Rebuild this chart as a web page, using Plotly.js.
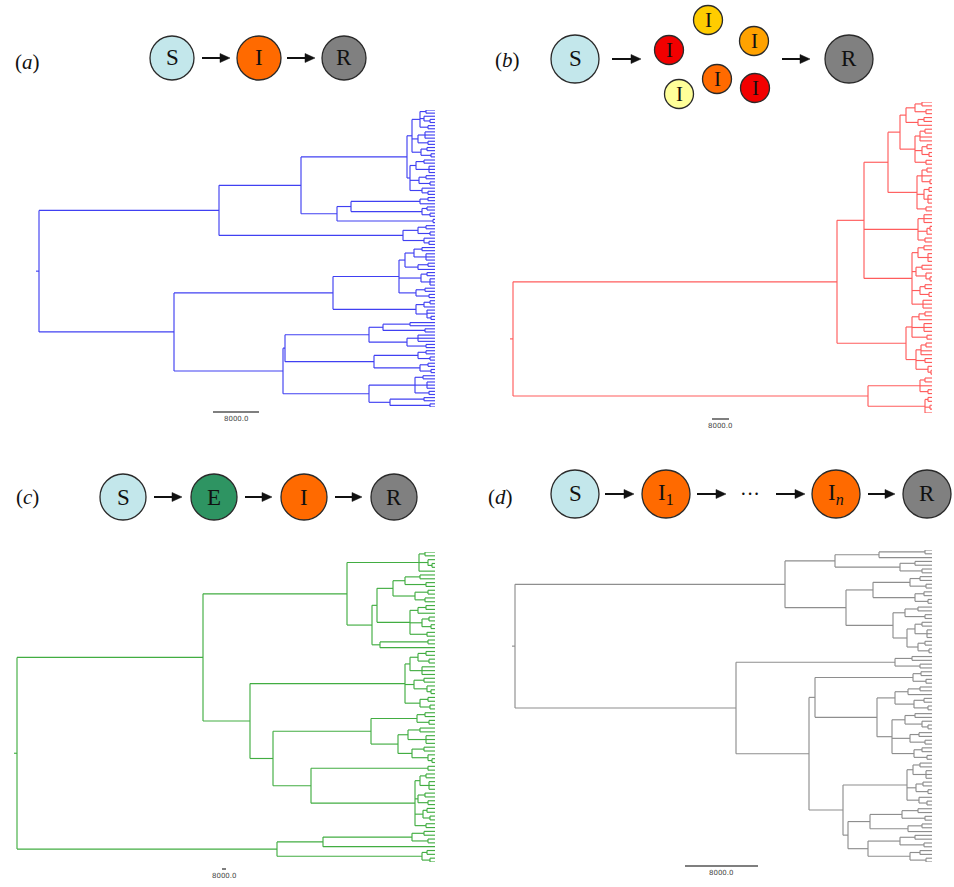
<!DOCTYPE html>
<html><head><meta charset="utf-8">
<script src="https://cdn.plot.ly/plotly-3.0.1.min.js"></script>
<style>html,body{margin:0;padding:0;background:#fff}#chart{width:954px;height:887px}</style>
</head><body><div id="chart"></div>
<script>
// ---- Tree data: node = [nodeDepth, child, child, ...]; leaf = tipDepth ----
const treeA = [39,
  [219,
    [301,
      [407,
        [412,
          [420,[426,435,435],[424,435,[430,435,435]],[428,435,435]],
          [418,[425,435,435,435],[428,435,435]],
          [421,[427,435,435],[431,435,435]]
        ],
        [410,
          [416,[424,435,435],[429,435,435,435]],
          [419,[426,435,435],[430,435,435]],
          [422,435,[428,435,435]]
        ]
      ],
      [337,
        [351,[420,[428,435,435],435],[422,[427,435,435],[430,435,435]]],
        [433,435,435]
      ]
    ],
    [403,[418,[426,435,435],[430,435,435]],[424,435,[429,435,435]]]
  ],
  [174,
    [333,
      [399,
        [405,[414,[422,435,435],[426,435,435,435]],[418,[428,435,435],435]],
        [421,[427,435,435],[430,435,435,435]],
        [416,[425,435,435],[429,435,435]]
      ],
      [416,[424,[430,435,435],435],[427,435,435,[431,435,435]]]
    ],
    [283,
      [285,
        [369,[383,[410,435,435],[425,435,435]],[407,[418,435,435,435],[426,435,435]]],
        [374,[418,[426,435,435],[430,435,435]],[420,[428,435,435],[431,435,435]]]
      ],
      [369,[415,[423,435,435],[427,435,435,435],[429,435,435]],[390,[424,435,435],[430,435,435]]]
    ]
  ]
];

const treeB = [513,
  [837,
    [864,
      [888,
        [900,
          [906,[915,[922,932,932],[926,932,932]],[918,[924,932,932],932]],
          [915,[920,[925,932,932],932,932],[922,[927,932,932],[929,932,932]],[926,932,932]]
        ],
        [917,[922,[927,932,932],932,[930,932,932]],[924,[929,932,932],[928,932,932,932]],[926,932,932]]
      ],
      [918,[924,932,932,932],[927,[930,932,932],932],[925,932,932]],
      [912,[918,[924,932,932],[928,932,932,932]],[916,[922,932,932],[926,932,[930,932,932]]],[920,[925,932,932],[929,932,932]],[923,932,932,932]]
    ],
    [906,
      [912,[919,[925,932,932],932],[924,932,932,932],[927,932,932]],
      [916,[921,[926,932,932],932,932],[925,932,932],[928,932,[931,932,932]]]
    ]
  ],
  [868,
    [920,[925,932,932],932,[928,932,932]],
    [925,[928,932,932],[930,932,932],932]
  ]
];

const treeC = [17,
  [203,
    [347,
      [419,[425,435,435],[428,435,[432,435,435]],435],
      [372,
        [377,
          [393,[405,[420,435,435],[426,435,435]],[415,[428,435,435],[425,435,435]]],
          [410,[418,[426,435,435],435],[422,[429,435,435],[431,435,435]],[427,435,435]]
        ],
        [380,[428,435,435],435]
      ]
    ],
    [250,
      [405,[410,[418,[426,435,435],[429,435,435]],[422,435,435,435]],[414,[424,435,435],[427,435,[431,435,435]]],[420,[428,435,435],[430,435,435]]],
      [273,
        [371,
          [417,[425,435,435],[429,435,435]],
          [398,[408,[420,435,435],[426,435,435,435]],[412,[424,435,435],[428,435,[432,435,435]]]]
        ],
        [311,
          [428,435,435],
          [415,[420,[426,435,435],[429,435,435,435]],[418,[425,435,435],[428,435,435]],[423,[427,435,435],[430,435,435]],[426,435,435]]
        ]
      ]
    ]
  ],
  [277,
    [323,[412,[424,435,435],[428,435,435]],435],
    [422,[427,435,435],[430,435,435]]
  ]
];

const treeD = [515,
  [785,
    [835,
      [879,[925,932,932],932],
      [900,[915,932,932],[922,932,932]]
    ],
    [846,
      [873,[910,[920,932,932],[926,932,932]],[915,[924,932,932],[928,932,932]]],
      [893,
        [905,[918,932,932],[925,932,932]],
        [907,[915,[922,932,932],[927,932,932,932]],[918,[925,932,932],[929,932,932]]]
      ]
    ]
  ],
  [736,
    [895,[912,932,932],[920,932,932]],
    [809,
      [815,
        [913,[921,932,932],[926,932,932]],
        [877,
          [895,[908,[920,932,932],932],[914,[924,932,932],[928,932,932]]],
          [892,[905,[915,932,932],[922,932,[928,932,932]]],[910,[919,932,932],[925,932,932]],[914,[922,932,932],[927,932,932]]]
        ]
      ],
      [843,
        [907,[913,[920,932,932],[926,932,932,932]],[916,[923,932,932],[928,932,932]],[919,932,[927,932,932]]],
        [848,
          [870,[902,[918,932,932],[925,932,932]],[908,[922,932,932],932]],
          [868,[900,[915,932,932],[924,932,932]],[910,[920,932,932],[926,932,932]]]
        ]
      ]
    ]
  ]
];

const panelLetters = ['a','b','c','d'];
const scaleLabels = ['8000.0','8000.0','8000.0','8000.0'];
const scaleLengths = [46, 17, 4, 73];   // length of the 8000.0 bar in tree-depth units
const treeColors = ['#4040f2','#ff5c5c','#42ad42','#8e8e8e'];

// ---- layout geometry (pixels) ----
const W = 954, H = 887;
const panels = [
  {tree:treeA, xr:[0,477],   tipTop:110, tipBot:407, bar:[213,412], lab:[27,62]},
  {tree:treeB, xr:[477,954], tipTop:102, tipBot:413, bar:[712,419], lab:[508,60]},
  {tree:treeC, xr:[0,477],   tipTop:552, tipBot:862, bar:[222,869], lab:[27,497]},
  {tree:treeD, xr:[477,954], tipTop:550, tipBot:862, bar:[685,866], lab:[500,497]}
];

function layoutTree(tree){
  const xs=[], ys=[]; let leaf=0;
  function visit(node){
    if (typeof node === 'number') return {x:node, y:leaf++};
    const x = node[0];
    const kids = node.slice(1).map(visit);
    const y0 = kids[0].y, y1 = kids[kids.length-1].y;
    xs.push(x,x,null); ys.push(y0,y1,null);
    kids.forEach(k=>{ xs.push(x,k.x,null); ys.push(k.y,k.y,null); });
    return {x, y:(y0+y1)/2};
  }
  const r = visit(tree);
  xs.push(r.x-3, r.x, null); ys.push(r.y, r.y, null);
  return {xs, ys, n:leaf};
}

const PX = px => px/W, PY = py => 1 - py/H;
const data = [], layout = {
  width:W, height:H, margin:{l:0,r:0,t:0,b:0}, showlegend:false,
  paper_bgcolor:'#fff', plot_bgcolor:'rgba(0,0,0,0)', shapes:[], annotations:[]
};
const serif = 'Liberation Serif, Times New Roman, serif';
function label(x, y, text, font, xref){
  layout.annotations.push({xref:xref||'paper', yref:'paper', x:x, y:y, text:text, showarrow:false,
    xanchor:'center', yanchor:'middle', font:font});
}

panels.forEach((p,i)=>{
  const k = i===0 ? '' : String(i+1);
  const L = layoutTree(p.tree);
  data.push({type:'scatter', mode:'lines', x:L.xs, y:L.ys, xaxis:'x'+k, yaxis:'y'+k,
    line:{color:treeColors[i], width:1.15}, hoverinfo:'skip', connectgaps:false});
  layout['xaxis'+k] = {domain:[PX(p.xr[0]), PX(p.xr[1])], range:p.xr, visible:false, fixedrange:true, anchor:'y'+k};
  layout['yaxis'+k] = {domain:[PY(p.tipBot), PY(p.tipTop)], range:[L.n-1, 0], visible:false, fixedrange:true, anchor:'x'+k};
  // scale bar
  layout.shapes.push({type:'line', xref:'x'+k, yref:'paper', x0:p.bar[0], x1:p.bar[0]+scaleLengths[i],
    y0:PY(p.bar[1]), y1:PY(p.bar[1]), line:{color:'#555', width:1.5}});
  label(p.bar[0]+scaleLengths[i]/2, PY(p.bar[1]+7), scaleLabels[i],
    {family:'DejaVu Sans, sans-serif', size:7, color:'#444'}, 'x'+k);
  // panel label
  label(PX(p.lab[0]), PY(p.lab[1]), '(<i>'+panelLetters[i]+'</i>)', {family:serif, size:21, color:'#111'});
});

// ---- compartment diagrams ----
const nodes = [
  // (a)
  {t:'S', c:'#c3e7eb', x:172, y:58, r:22},
  {t:'I', c:'#ff6a00', x:259, y:58, r:22},
  {t:'R', c:'#808080', x:344, y:58, r:22},
  // (b)
  {t:'S', c:'#c3e7eb', x:575, y:59, r:24},
  {t:'R', c:'#808080', x:849, y:59, r:24},
  {t:'I', c:'#f20000', x:669, y:50, r:14.5, s:21},
  {t:'I', c:'#ffcc00', x:708, y:20, r:14.5, s:21},
  {t:'I', c:'#ffa200', x:754, y:41, r:14.5, s:21},
  {t:'I', c:'#ff6a00', x:717, y:79, r:14.5, s:21},
  {t:'I', c:'#f20000', x:755, y:88, r:14.5, s:21},
  {t:'I', c:'#ffff99', x:679, y:94, r:14.5, s:21},
  // (c)
  {t:'S', c:'#c3e7eb', x:123, y:497, r:23},
  {t:'E', c:'#2e9462', x:214, y:497, r:23},
  {t:'I', c:'#ff6a00', x:304, y:497, r:23},
  {t:'R', c:'#808080', x:394, y:497, r:23},
  // (d)
  {t:'S', c:'#c3e7eb', x:575, y:494, r:24},
  {t:'I<sub>1</sub>', c:'#ff6a00', x:666, y:494, r:24},
  {t:'I<sub><i>n</i></sub>', c:'#ff6a00', x:836, y:494, r:24},
  {t:'R', c:'#808080', x:927, y:494, r:24}
];
nodes.forEach(n=>{
  layout.shapes.push({type:'circle', xref:'paper', yref:'paper',
    x0:PX(n.x-n.r), x1:PX(n.x+n.r), y0:PY(n.y+n.r), y1:PY(n.y-n.r),
    fillcolor:n.c, line:{color:'#2a2a2a', width:1.3}});
  label(PX(n.x), PY(n.y), n.t, {family:serif, size:n.s||23, color:'#111'});
});
const arrows = [
  [202,230,58],[287,315,58],
  [612,641,59],[782,810,59],
  [154,182,497],[245,272,497],[335,362,497],
  [605,634,494],[697,726,494],[776,805,494],[868,895,494]
];
arrows.forEach(a=>{
  const [x0,x1,y] = a, hl = 10, hw = 4.5;
  layout.shapes.push({type:'line', xref:'paper', yref:'paper', x0:PX(x0), x1:PX(x1-hl+1), y0:PY(y), y1:PY(y),
    line:{color:'#111', width:2}});
  layout.shapes.push({type:'path', xref:'paper', yref:'paper',
    path:`M ${PX(x1-hl)} ${PY(y-hw)} L ${PX(x1)} ${PY(y)} L ${PX(x1-hl)} ${PY(y+hw)} Z`,
    fillcolor:'#111', line:{color:'#111', width:0.5}});
});
label(PX(750), PY(494), '···', {family:serif, size:20, color:'#111'});

Plotly.newPlot('chart', data, layout, {displayModeBar:false, staticPlot:true});
</script></body></html>
